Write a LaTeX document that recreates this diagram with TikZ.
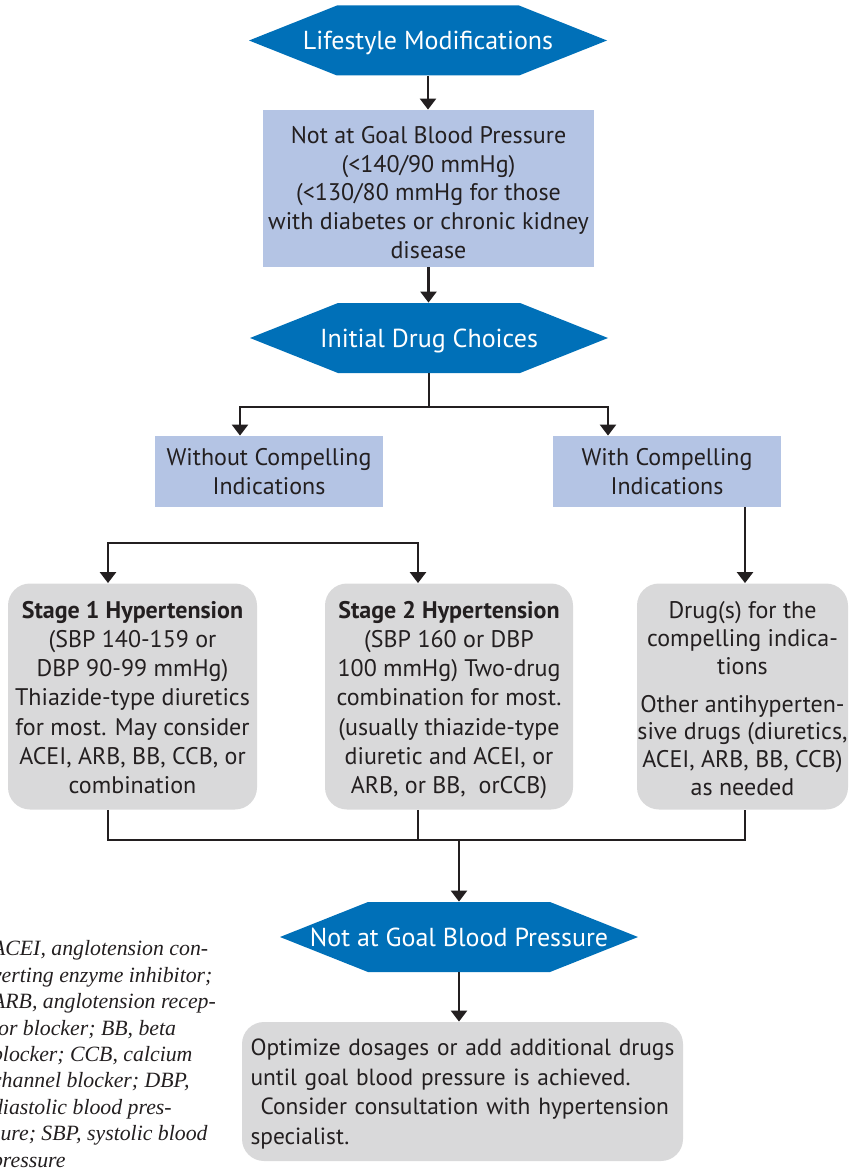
\documentclass[tikz,border=0pt]{standalone}
\usepackage{fontspec}
\setmainfont{PT Sans}
\newfontfamily\notefont{Liberation Serif}
\usetikzlibrary{arrows.meta,positioning}

\definecolor{hexblue}{RGB}{0,112,184}
\definecolor{paleblue}{RGB}{180,196,228}
\definecolor{boxgray}{RGB}{217,217,218}
\definecolor{ink}{RGB}{35,31,32}

\begin{document}
\begin{tikzpicture}
		[
			x=0.5pt, y=-0.5pt,
			align=center,
			text=ink,
			font=\fontsize{12}{14.75}\selectfont,
			hexa/.style={minimum width=179pt, minimum height=35pt, inner sep=0pt, text=white,
				text height=9.1pt, text depth=0pt,
				font=\fontsize{13}{16}\selectfont,
				path picture={\fill[hexblue] (path picture bounding box.west)
					-- ([xshift=44pt]path picture bounding box.north west)
					-- ([xshift=-44pt]path picture bounding box.north east)
					-- (path picture bounding box.east)
					-- ([xshift=-44pt]path picture bounding box.south east)
					-- ([xshift=44pt]path picture bounding box.south west) -- cycle;}},
			goalbox/.style={fill=paleblue, inner sep=0pt},
			stagebox/.style={fill=boxgray, rounded corners=11pt, inner sep=0pt, minimum height=113pt,
				text depth=0pt, text height=97pt, font=\fontsize{12}{14.6}\selectfont},
			line/.style={draw=ink, line width=1.2pt},
			arrow/.style={line, -{Triangle[width=8pt,length=5.5pt]}},
			twoarrow/.style={line, {Triangle[width=8pt,length=5.5pt]}-{Triangle[width=8pt,length=5.5pt]}}
		]

		\useasboundingbox (0,0) rectangle (854,1172);

		% blue hexagons
		\node[hexa] (life) at ( 428, 40.5 ) {Lifestyle Modifications};
		\node[hexa] (idc)  at ( 429, 338 ) {Initial Drug Choices};
		\node[hexa] (ngbp) at ( 459, 937 ) {Not at Goal Blood Pressure};

		% pale blue boxes
		\node[goalbox, minimum width=165.5pt, minimum height=78.5pt, text height=69.5pt, text depth=0pt,
			font=\fontsize{12}{14.3}\selectfont] (ngoal) at ( 428.5, 188.5 )
			{Not at Goal Blood Pressure\\(<140/90 mmHg)\\(<130/80 mmHg for those\\with diabetes or chronic kidney\\disease};
		\node[goalbox, minimum width=114pt, minimum height=35.5pt] (wo) at ( 269, 471.5 )
			{Without Compelling\\Indications};
		\node[goalbox, minimum width=114pt, minimum height=35.5pt] (wi) at ( 667, 471.5 )
			{With Compelling\\Indications};

		% grey boxes
		\node[stagebox, minimum width=124.5pt] (s1) at ( 132.5, 696.5 )
			{\textbf{Stage 1 Hypertension}\\(SBP 140-159 or\\DBP 90-99 mmHg)\\Thiazide-type diuretics\\for most. May consider\\ACEI, ARB, BB, CCB, or\\combination};
		\node[stagebox, minimum width=124pt] (s2) at ( 449, 696.5 )
			{\textbf{Stage 2 Hypertension}\\(SBP 160 or DBP\\100 mmHg) Two-drug\\combination for most.\\(usually thiazide-type\\diuretic and ACEI, or\\ARB, or BB,\ \ orCCB)};
		\node[stagebox, minimum width=105.5pt, text height=99pt, font=\fontsize{12}{13.9}\selectfont] (dr) at ( 742.5, 696.5 )
			{Drug(s) for the\\compelling indica-\\tions\\[5pt]Other antihyperten-\\sive drugs (diuretics,\\ACEI, ARB, BB, CCB)\\as needed};
		\node[stagebox, minimum width=220.5pt, minimum height=69.5pt, text width=212pt, align=left,
			text height=8.4pt, text depth=44.4pt, font=\fontsize{11.7}{14.75}\selectfont] (opt) at ( 462.5, 1091.5 )
			{Optimize dosages or add additional drugs\\until goal blood pressure is achieved.\\\makebox[212pt][s]{\hspace{5pt}Consider consultation with hypertension}\\specialist.};

		% abbreviations
		\node[anchor=base west, align=left, font=\notefont\itshape\fontsize{10.9}{13.2}\selectfont] (note) at ( -15, 1167 )
			{ACEI, anglotension con-\\verting enzyme inhibitor;\\ARB, anglotension recep-\\tor blocker; BB, beta\\blocker; CCB, calcium\\channel blocker; DBP,\\diastolic blood pres-\\sure; SBP, systolic blood\\pressure};

		% branch points
		\coordinate (ka) at ( 240, 407 );
		\coordinate (kb) at ( 608, 407 );
		\coordinate (kl) at ( 108, 543 );
		\coordinate (kr) at ( 418, 543 );
		\coordinate (kd) at ( 745, 543 );
		\coordinate (m1) at ( 108, 840 );
		\coordinate (m2) at ( 418, 840 );
		\coordinate (m3) at ( 745, 840 );
		\coordinate (mc) at ( 459, 840 );

		% straight paths
		\foreach \from/\to in {life/ngoal,ngoal/idc,ngbp/opt}
		\draw[arrow] (\from.south) -- (\from.south |- \to.north);

		% branching paths
		\draw[line] (idc.south) -- (idc.south |- ka);
		\draw[twoarrow] (ka |- wo.north) -- (ka) -- (kb) -- (kb |- wi.north);
		\draw[twoarrow] (kl |- s1.north) -- (kl) -- (kr) -- (kr |- s2.north);
		\draw[arrow] (kd |- wi.south) -- (kd |- dr.north);

		% merging paths
		\draw[line] (m1 |- s1.south) -- (m1) -- (m3) -- (m3 |- dr.south);
		\draw[line] (m2 |- s2.south) -- (m2);
		\draw[arrow] (mc) -- (ngbp.north);

	\end{tikzpicture}
\end{document}
